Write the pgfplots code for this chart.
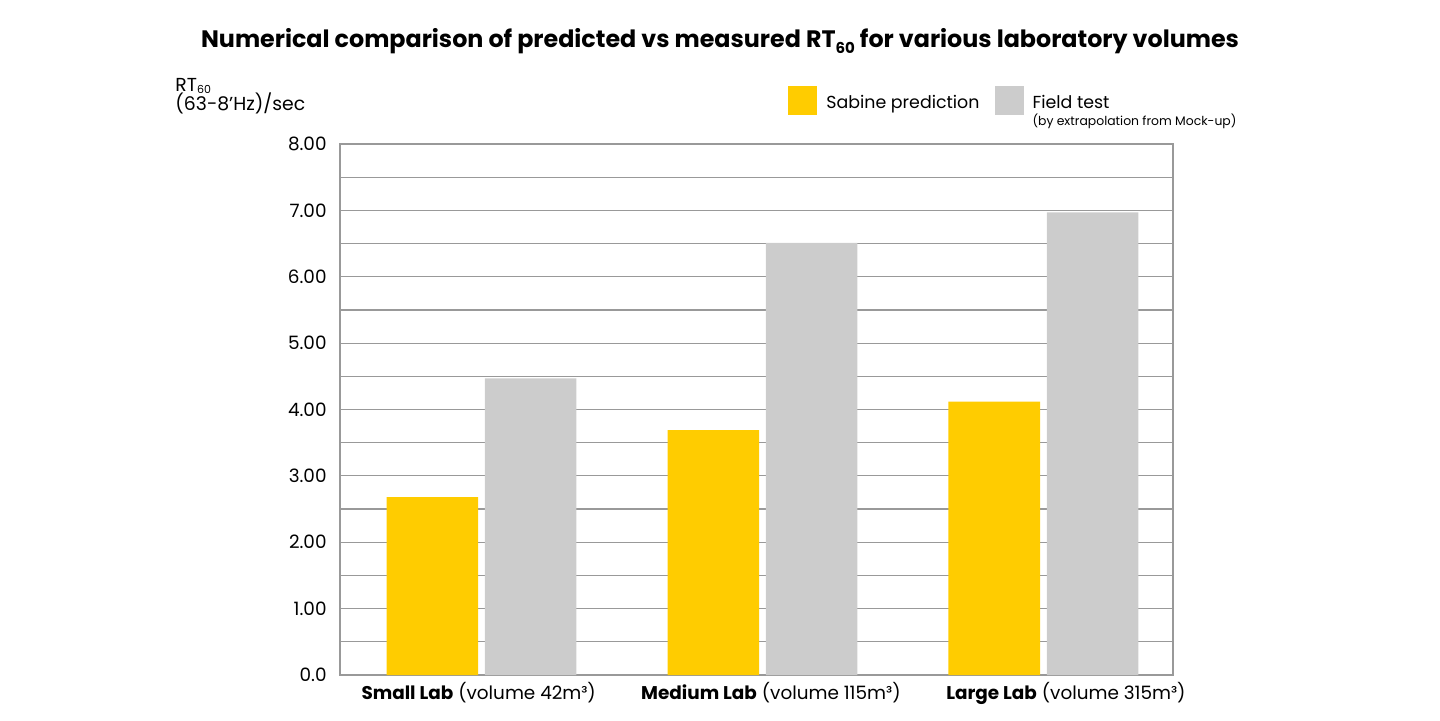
\documentclass[border=0pt]{standalone}
\usepackage{fontspec}
\setmainfont{Poppins}
\usepackage{pgfplots}
\pgfplotsset{compat=1.18}
\definecolor{sabine}{HTML}{FFCC00}
\definecolor{field}{HTML}{CCCCCC}
\definecolor{gridc}{HTML}{999999}
\begin{document}
\begin{tikzpicture}
\path[use as bounding box] (-170pt,-22.5pt) rectangle (550pt,337.5pt);
\begin{axis}[
  at={(0,0)}, anchor=south west,
  scale only axis, width=416.5pt, height=265.5pt,
  clip=false,
  xmin=-0.5036, xmax=2.461, ymin=0, ymax=8,
  ytick={0,1,...,8},
  yticklabels={0.0,1.00,2.00,3.00,4.00,5.00,6.00,7.00,8.00},
  minor ytick={0.5,1.5,...,7.5},
  ymajorgrids, yminorgrids,
  major grid style={draw=gridc, line width=0.6pt},
  minor grid style={draw=gridc, line width=0.6pt},
  axis line style={draw=gridc, line width=0.6pt},
  xtick={-0.01,1.03,2.08},
  xticklabels={{\textbf{Small Lab} (volume 42m³)},{\textbf{Medium Lab} (volume 115m³)},{\textbf{Large Lab} (volume 315m³)}},
  major tick length=0pt, minor tick length=0pt,
  tick style={draw=none},
  yticklabel style={font=\fontsize{9.2}{10}\selectfont, anchor=east, inner sep=0pt, xshift=-6.5pt},
  xticklabel style={font=\fontsize{9.2}{10}\selectfont, anchor=north, inner sep=0pt, yshift=-3.5pt},
  /pgf/number format/assume math mode=true,
  ybar=0pt, bar width=0.326,
  legend style={at={(axis description cs:0.5378,1.1091)}, anchor=north west,
    draw=none, fill=none, inner sep=0pt,
    /tikz/every odd column/.append style={column sep=4.5pt},
    /tikz/every even column/.append style={column sep=7.5pt},
    nodes={inner sep=0pt}, font=\fontsize{8.7}{10}\selectfont},
  legend columns=2,
  legend cell align=left,
  legend image code/.code={\fill[#1] (0pt,-6pt) rectangle (14.5pt,8.5pt);},
]
\addplot[fill=sabine, draw=none, bar shift=-0.175] coordinates {(0,2.68) (1,3.69) (2,4.12)};
\addlegendentry{Sabine prediction}
\addplot[fill=field, draw=none, bar shift=0.175] coordinates {(0,4.47) (1,6.51) (2,6.97)};
\addlegendentry{\smash{\rlap{\raisebox{-8.5pt}{\fontsize{6.2}{7}\selectfont (by extrapolation from Mock-up)}}}Field test}
\node[anchor=base west, inner sep=0pt, font=\fontsize{9.4}{10}\selectfont] at (axis description cs:-0.198,1.0998) {RT\raisebox{-1.2pt}{\fontsize{5.5}{6}\selectfont 60}};
\node[anchor=base west, inner sep=0pt, font=\fontsize{9.4}{10}\selectfont] at (axis description cs:-0.198,1.0640) {(63-8’Hz)/sec};
\node[anchor=base, inner sep=0pt, font=\fontsize{11.9}{14}\selectfont\bfseries] at (axis description cs:0.4562,1.1827) {Numerical comparison of predicted vs measured RT\raisebox{-3pt}{\fontsize{7.5}{8}\selectfont 60} for various laboratory volumes};
\end{axis}
\end{tikzpicture}
\end{document}
